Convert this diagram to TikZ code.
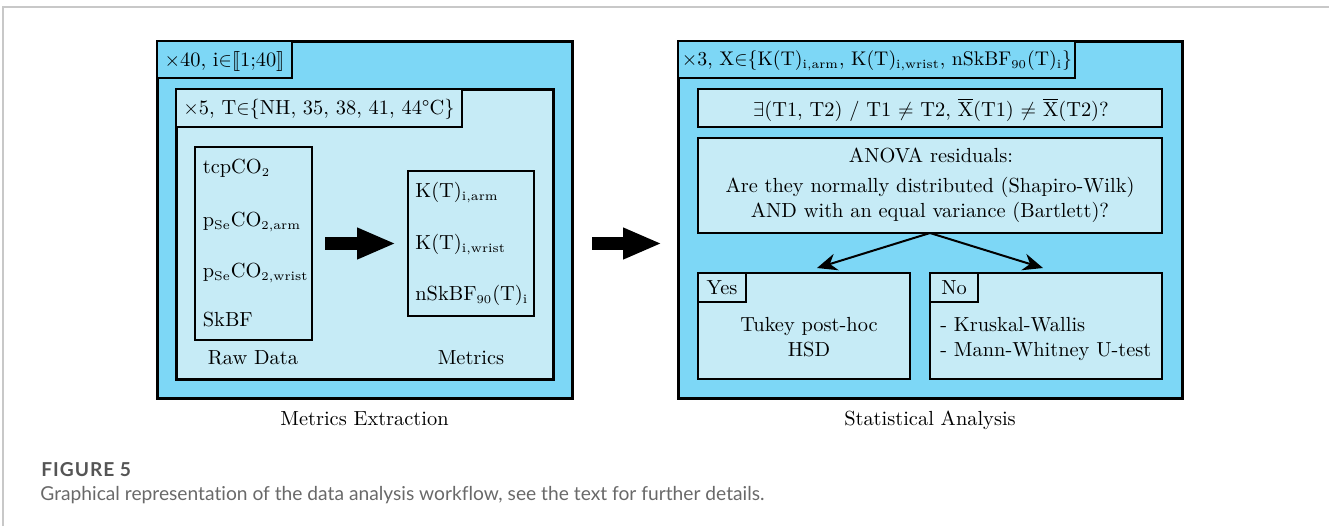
\documentclass[tikz,border=0pt]{standalone}
\usepackage{fontspec}
\usepackage{stmaryrd}
\newfontfamily\capfont[Ligatures=NoCommon]{Lato}
\DeclareMathSizes{10.2}{10.2}{6.4}{5}
\DeclareMathSizes{9.9}{9.9}{6.3}{5}
\usetikzlibrary{arrows.meta,fit}
\definecolor{cdark}{RGB}{125,215,246}
\definecolor{clight}{RGB}{198,235,246}
\definecolor{framegray}{RGB}{200,200,200}
\definecolor{capgray}{RGB}{105,105,105}
\definecolor{figgray}{RGB}{85,85,85}
\newcommand{\inn}{\ensuremath{\mathord{\in}}}
\begin{document}
\begin{tikzpicture}[x=0.5pt,y=-0.5pt,font=\fontsize{10.2}{12.5}\selectfont,
  bigbox/.style={draw=black, line width=1.5pt, inner sep=0pt, outer sep=0pt},
  thinbox/.style={draw=black, line width=0.75pt, inner sep=0pt, outer sep=0pt},
  lbl/.style={inner sep=0pt, anchor=base west},
  clbl/.style={inner sep=0pt, anchor=base},
  blockarrow/.style={line width=6.75pt, -{Triangle[length=19.5pt,width=14.5pt]}},
  splitarrow/.style={line width=1pt, -{Stealth[length=10pt,width=8.5pt]}}]
\useasboundingbox (0,0) rectangle (1329,526);
% page frame
\draw[framegray, line width=0.6pt] (3,526) -- (3,7) -- (1329,7);
% ---------- left part ----------
\node[bigbox, fill=cdark, fit={(157,41)(572,398)}] (L) {};
\node[thinbox, fill=cdark, fit={(157,41)(292,78)}] (tL) {};
\node[clbl] (tLt) at (224.5,66) {$\times$40, i\inn$\llbracket$1;40$\rrbracket$};
\node[bigbox, fill=clight, fit={(176,89)(553,379)}] (I) {};
\node[thinbox, fill=clight, fit={(176,89)(462,127)}] (tI) {};
\node[clbl] (tIt) at (319,114.5) {$\times$5, T\inn\{NH, 35, 38, 41, 44°C\}};
\node[thinbox, fit={(195,147)(312,340)}] (raw) {};
\node[lbl] (r1) at (202.5,173) {tcpCO$_2$};
\node[lbl] (r2) at (202.5,226.5) {p$_{\mathrm{Se}}$CO$_{2,\mathrm{arm}}$};
\node[lbl] (r3) at (202.5,277.5) {p$_{\mathrm{Se}}$CO$_{2,\mathrm{wrist}}$};
\node[lbl] (r4) at (202.5,326.5) {SkBF};
\node[clbl] (rawlbl) at (253,364) {Raw Data};
\node[thinbox, fit={(408,171)(534,316)}] (met) {};
\node[lbl] (m1) at (415,197.5) {K(T)$_{\mathrm{i,arm}}$};
\node[lbl] (m2) at (415,249) {K(T)$_{\mathrm{i,wrist}}$};
\node[lbl] (m3) at (415,300) {nSkBF$_{90}$(T)$_{\mathrm{i}}$};
\node[clbl] (metlbl) at (471,364) {Metrics};
\draw[blockarrow, shorten <=6.5pt, shorten >=6pt] (raw.east) -- (raw.east -| met.west);
\node[clbl] (capL) at (364.5,425.5) {Metrics Extraction};
% ---------- right part ----------
\node[bigbox, fill=cdark, fit={(678,41)(1182,398)}] (R) {};
\node[thinbox, fill=cdark, fit={(678,41)(1075,78)}] (tR) {};
\node[clbl, font=\fontsize{9.9}{12}\selectfont] (tRt) at (877,65) {$\times$3, X\inn\{K(T)$_{\mathrm{i,arm}}$, K(T)$_{\mathrm{i,wrist}}$, nSkBF$_{90}$(T)$_{\mathrm{i}}$\}};
\node[thinbox, fill=clight, fit={(698,89)(1162,127)}] (ex) {};
\node[clbl] (ext) at (931,116.5) {$\exists$(T1, T2) / T1 $\neq$ T2, $\overline{\mathrm{X}}$(T1) $\neq$ $\overline{\mathrm{X}}$(T2)?};
\node[thinbox, fill=clight, fit={(698,138)(1162,233)}] (an) {};
\node[clbl] (an1) at (931,162.5) {ANOVA residuals:};
\node[clbl] (an2) at (930,192.5) {Are they normally distributed (Shapiro-Wilk)};
\node[clbl] (an3) at (930,217.5) {AND with an equal variance (Bartlett)?};
\node[thinbox, fill=clight, fit={(698,273)(910,379)}] (yes) {};
\node[thinbox, fill=clight, fit={(698,273)(746,302)}] (yest) {};
\node[clbl] (yeslbl) at (722,294.5) {Yes};
\node[clbl] (y1) at (809,331) {Tukey post-hoc};
\node[clbl] (y2) at (809,356.5) {HSD};
\node[thinbox, fill=clight, fit={(930,273)(1162,379)}] (no) {};
\node[thinbox, fill=clight, fit={(930,273)(978,302)}] (not) {};
\node[clbl] (nolbl) at (954,294.5) {No};
\node[lbl] (n1) at (940,331) {- Kruskal-Wallis};
\node[lbl] (n2) at (940,356.5) {- Mann-Whitney U-test};
\coordinate (ty) at (817,268);
\coordinate (tn) at (1043,268);
\draw[splitarrow] (an.south) -- (ty);
\draw[splitarrow] (an.south) -- (tn);
\node[clbl] (capR) at (930,425.5) {Statistical Analysis};
% arrow between parts
\draw[blockarrow, shorten <=10pt, shorten >=8pt] (L.east |- raw.east) -- (R.west |- raw.east);
% ---------- figure caption ----------
\node[lbl, text=figgray] (fig) at (41,476) {\capfont\bfseries\fontsize{9.6}{11}\selectfont\addfontfeature{LetterSpace=5}FIGURE 5};
\node[lbl, text=capgray] (figcap) at (40,500) {\capfont\fontsize{9.6}{11}\selectfont Graphical representation of the data analysis workflow, see the text for further details.};
\end{tikzpicture}
\end{document}
